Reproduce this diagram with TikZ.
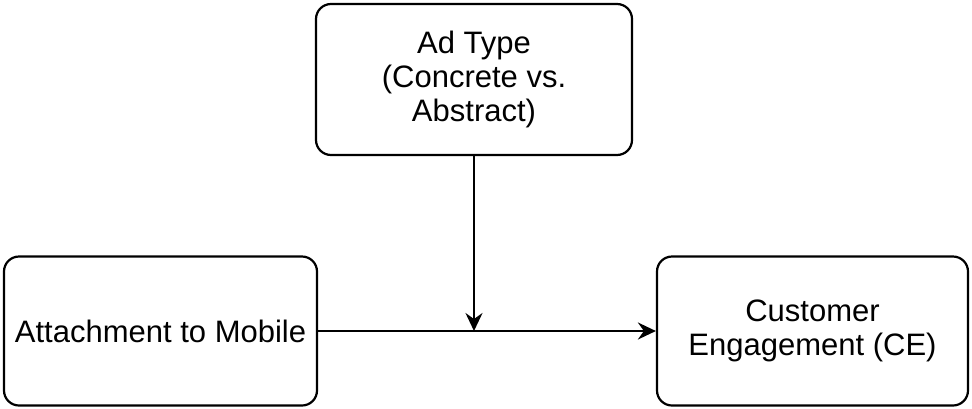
\documentclass[tikz,border=0pt]{standalone}
\usepackage{fontspec}
\setmainfont{Liberation Sans}
\usetikzlibrary{arrows.meta}
\begin{document}
\begin{tikzpicture}[x=1pt,y=-1pt,line width=2.2pt,
	box/.style={draw,rounded corners=15pt,align=center,inner sep=0pt,font=\fontsize{31}{34}\selectfont},
	link/.style={-{Stealth[length=18pt,width=17pt,inset=6pt]}}]
	\useasboundingbox (0,0) rectangle (972,408);
	\node[box,minimum width=316pt,minimum height=151pt] (adtype) at (474,79.5) {Ad Type\\(Concrete vs.\\Abstract)};
	\node[box,minimum width=313pt,minimum height=149pt] (attach) at (160.5,331) {Attachment to Mobile};
	\node[box,minimum width=311pt,minimum height=149pt] (ce) at (812.5,331) {Customer\\Engagement (CE)};
	\coordinate (meet) at (474,331);
	\draw[link] (attach) -- (ce);
	\draw[link] (adtype) -- (meet);
\end{tikzpicture}
\end{document}
